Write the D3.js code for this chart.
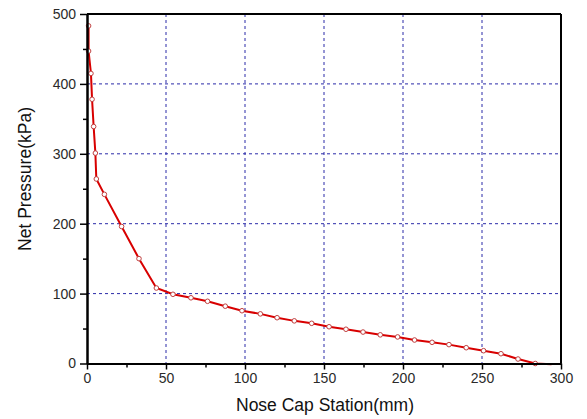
<!DOCTYPE html>
<html><head><meta charset="utf-8">
<script src="https://cdn.jsdelivr.net/npm/d3@7"></script>
<style>body{margin:0;background:#fff}svg{display:block}</style>
</head><body>
<svg id="c" width="587" height="419"></svg>
<script>
const stationMm = [1, 1, 2.5, 3.2, 4.2, 5.3, 5.9, 11, 21.9, 32.9, 43.9, 54.4, 65.8, 76.3, 87.5, 98.1, 109.7, 120.3, 131.2, 142.2, 153.2, 163.9, 174.7, 185.6, 196.6, 207.3, 218.4, 229.1, 240, 251, 262, 272.8, 283.7, 294];
const pressureKPa = [483, 447, 415, 378, 339, 301, 264, 242, 196, 150, 108, 99, 94, 89, 82, 75.5, 71, 65.5, 61, 57.5, 52.6, 49, 45, 41, 38, 33.6, 30.3, 27, 22.6, 18.3, 14, 6.4, 0, -1];
const xTicks = [0, 50, 100, 150, 200, 250, 300];
const yTicks = [0, 100, 200, 300, 400, 500];
const xGrid = [50, 100, 150, 200, 250];
const yGrid = [100, 200, 300, 400];

const svg = d3.select("#c");
const L = 87, R = 561, T = 14, B = 363.5;
const x = d3.scaleLinear().domain([0, 300]).range([L, R]);
const y = d3.scaleLinear().domain([0, 500]).range([B, T]);
const font = "Arial, 'Liberation Sans', sans-serif";

// grid
svg.append("g").selectAll("line").data(xGrid).join("line")
  .attr("x1", d => x(d)).attr("x2", d => x(d)).attr("y1", T).attr("y2", B)
  .attr("stroke", "#2a2aa8").attr("stroke-width", 1).attr("stroke-dasharray", "3,3");
svg.append("g").selectAll("line").data(yGrid).join("line")
  .attr("y1", d => y(d)).attr("y2", d => y(d)).attr("x1", L).attr("x2", R)
  .attr("stroke", "#2a2aa8").attr("stroke-width", 1).attr("stroke-dasharray", "3,3");

// data
const pts = stationMm.map((s, i) => [s, pressureKPa[i]]);
svg.append("path").datum(pts)
  .attr("d", d3.line().x(d => x(d[0])).y(d => y(d[1])))
  .attr("fill", "none").attr("stroke", "#d80000").attr("stroke-width", 2);
svg.append("g").selectAll("circle").data(pts.slice(0, pts.length - 1)).join("circle")
  .attr("cx", d => x(d[0])).attr("cy", d => y(d[1])).attr("r", 2.3)
  .attr("fill", "#fff").attr("stroke", "#c04040").attr("stroke-width", 1);

// axes
const xAx = svg.append("g").attr("transform", `translate(0,${B})`)
  .call(d3.axisBottom(x).tickValues(xTicks).tickSize(6).tickSizeOuter(0).tickPadding(4));
const xMinor = svg.append("g").attr("transform", `translate(0,${B})`)
  .call(d3.axisBottom(x).tickValues([25, 75, 125, 175, 225, 275]).tickSize(4).tickSizeOuter(0).tickFormat(""));
const yAx = svg.append("g").attr("transform", `translate(${L},0)`)
  .call(d3.axisLeft(y).tickValues(yTicks).tickSize(7).tickSizeOuter(0).tickPadding(4));
const yMinor = svg.append("g").attr("transform", `translate(${L},0)`)
  .call(d3.axisLeft(y).tickValues([50, 150, 250, 350, 450]).tickSize(4).tickSizeOuter(0).tickFormat(""));
[xAx, xMinor, yAx, yMinor].forEach(g => {
  g.selectAll(".domain").attr("stroke", "#000").attr("stroke-width", 2);
  g.selectAll(".tick line").attr("stroke", "#000").attr("stroke-width", 1.5);
  g.selectAll("text").attr("font-family", font).attr("font-size", 14).attr("fill", "#2a2a2a");
});
// top and right frame
svg.append("line").attr("x1", L).attr("x2", R).attr("y1", T).attr("y2", T).attr("stroke", "#000").attr("stroke-width", 2);
svg.append("line").attr("x1", R).attr("x2", R).attr("y1", T).attr("y2", B).attr("stroke", "#000").attr("stroke-width", 2);

// titles
svg.append("text").attr("x", 325).attr("y", 411).attr("text-anchor", "middle")
  .attr("font-family", font).attr("font-size", 17.5).attr("fill", "#111").text("Nose Cap Station(mm)");
svg.append("text").attr("transform", `translate(31,179) rotate(-90)`).attr("text-anchor", "middle")
  .attr("font-family", font).attr("font-size", 17.5).attr("fill", "#111").text("Net Pressure(kPa)");
</script>
</body></html>
